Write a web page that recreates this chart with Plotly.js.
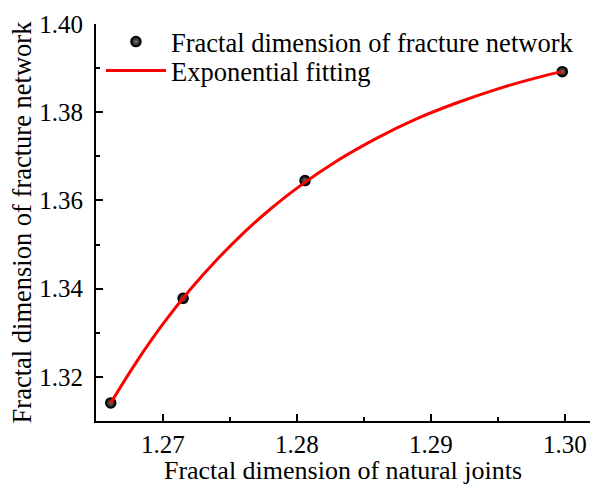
<!DOCTYPE html>
<html>
<head>
<meta charset="utf-8">
<script src="https://cdn.plot.ly/plotly-3.0.1.min.js"></script>
<style>
  html, body { margin: 0; padding: 0; background: #fff; }
  #chart { width: 590px; height: 485px; }
</style>
</head>
<body>
<div id="chart"></div>
<script>
// Measured pairs: natural-joint dimension vs fracture-network dimension
const jointDim = [1.2661, 1.2715, 1.2806, 1.2998];
const networkDim = [1.3141, 1.3378, 1.3645, 1.3892];

// Exponential fitting curve, sampled along the joint-dimension axis
const fitX = [1.2661, 1.268, 1.270, 1.272, 1.274, 1.276, 1.278, 1.280,
              1.283, 1.286, 1.289, 1.292, 1.295, 1.298, 1.2998];
const fitY = [1.3141, 1.3233, 1.3320, 1.3397, 1.3465, 1.3526, 1.3580, 1.3628,
              1.3690, 1.3742, 1.3786, 1.3822, 1.3853, 1.3879, 1.3892];

const xTicks = [1.27, 1.28, 1.29, 1.30];
const xTickText = ['1.27', '1.28', '1.29', '1.30'];
const yTicks = [1.32, 1.34, 1.36, 1.38, 1.40];
const yTickText = ['1.32', '1.34', '1.36', '1.38', '1.40'];

const serif = 'Liberation Serif';

const traces = [
  {
    x: jointDim, y: networkDim,
    type: 'scatter', mode: 'markers',
    name: 'Fractal dimension of fracture network',
    legend: 'legend',
    marker: {
      color: '#000', size: 10,
      gradient: { type: 'radial', color: '#777' },
      line: { width: 1.5, color: '#000' }
    }
  },
  {
    x: fitX, y: fitY,
    type: 'scatter', mode: 'lines',
    name: 'Exponential fitting',
    legend: 'legend2',
    line: { color: '#ff0000', width: 3, shape: 'spline' }
  }
];

const axisCommon = {
  showline: true, linecolor: '#000', linewidth: 2,
  mirror: false, showgrid: false, zeroline: false,
  ticks: 'inside', ticklen: 7, tickwidth: 2, tickcolor: '#000',
  tickfont: { family: serif, size: 25, color: '#000' },
  tickmode: 'array'
};

const legendCommon = {
  xanchor: 'left', yanchor: 'middle',
  bgcolor: 'rgba(0,0,0,0)', borderwidth: 0,
  font: { family: serif, size: 26.5, color: '#000' },
  itemwidth: 60
};

const layout = {
  width: 590, height: 485,
  margin: { l: 96, r: 0, t: 24, b: 64 },
  paper_bgcolor: '#fff', plot_bgcolor: '#fff',
  font: { family: serif, color: '#000' },
  showlegend: true,
  legend: Object.assign({}, legendCommon, { x: 0.01, y: 0.955 }),
  legend2: Object.assign({}, legendCommon, { x: 0.01, y: 0.882 }),
  xaxis: Object.assign({}, axisCommon, {
    range: [1.2650, 1.30187],
    tickvals: xTicks, ticktext: xTickText,
    ticklabelstandoff: 0,
    minor: { dtick: 0.005, ticks: 'inside', ticklen: 4, tickwidth: 2, tickcolor: '#000' },
    title: { text: 'Fractal dimension of natural joints', font: { family: serif, size: 26, color: '#000' }, standoff: 11 }
  }),
  yaxis: Object.assign({}, axisCommon, {
    range: [1.31, 1.40],
    tickvals: yTicks, ticktext: yTickText,
    minor: { dtick: 0.01, ticks: 'inside', ticklen: 4, tickwidth: 2, tickcolor: '#000' },
    ticklabelstandoff: 6,
    title: { text: 'Fractal dimension of fracture network', font: { family: serif, size: 26.5, color: '#000' }, standoff: 0 }
  })
};

Plotly.newPlot('chart', traces, layout, { staticPlot: true, displayModeBar: false });
</script>
</body>
</html>
